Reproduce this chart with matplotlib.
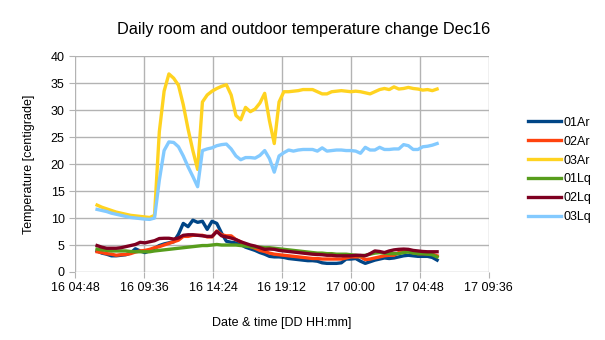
import matplotlib
matplotlib.use("Agg")
import matplotlib.pyplot as plt
import matplotlib.dates as mdates
import pandas as pd

plt.rcParams['font.family'] = ['Liberation Sans', 'DejaVu Sans']

# readings every 20 minutes, 16 Dec 06:20 -> 17 Dec 06:00
times = pd.date_range("2016-12-16 06:20", periods=72, freq="20min")

t_01ar = [3.9, 3.5, 3.3, 3.0, 3.0, 3.1, 3.2, 3.5, 4.3, 3.9, 3.6, 3.9, 4.4, 4.9, 5.2, 5.4,
          5.6, 7.0, 9.0, 8.4, 9.6, 9.2, 9.4, 7.9, 9.4, 9.0, 7.2, 5.7, 5.5, 5.4, 5.1, 4.6,
          4.3, 4.0, 3.6, 3.3, 2.9, 2.8, 2.8, 2.7, 2.5, 2.4, 2.3, 2.2, 2.1, 2.1, 2.0, 1.7,
          1.6, 1.6, 1.6, 1.7, 2.4, 2.4, 2.5, 2.0, 1.6, 1.9, 2.2, 2.4, 2.6, 2.5, 2.6, 2.8,
          3.0, 3.1, 3.0, 2.9, 2.9, 2.9, 2.7, 2.2]
t_02ar = [3.75, 3.6, 3.4, 3.3, 3.1, 3.2, 3.25, 3.4, 3.7, 3.9, 4.0, 4.2, 4.5, 4.7, 5.0, 5.3,
          5.6, 5.9, 6.6, 6.6, 6.8, 6.8, 6.8, 6.5, 6.5, 7.6, 6.9, 6.7, 6.7, 6.0, 5.6, 5.1,
          4.7, 4.4, 4.0, 3.8, 3.5, 3.3, 3.2, 3.1, 3.0, 2.9, 2.8, 2.7, 2.6, 2.5, 2.5, 2.4,
          2.4, 2.4, 2.4, 2.4, 2.6, 2.8, 2.8, 2.8, 2.3, 2.4, 2.6, 2.8, 3.0, 3.1, 3.1, 3.6,
          3.9, 3.8, 3.6, 3.4, 3.4, 3.4, 3.3, 3.0]
t_03ar = [12.4, 12.0, 11.7, 11.4, 11.1, 10.9, 10.7, 10.5, 10.4, 10.3, 10.2, 10.1, 10.5, 26.0, 33.5, 36.7,
          35.9, 34.6, 31.0, 26.5, 22.5, 19.0, 31.5, 32.8, 33.5, 34.0, 34.4, 34.7, 32.8, 29.0, 28.2, 30.5,
          29.7, 30.2, 31.3, 33.1, 28.0, 23.8, 31.5, 33.4, 33.4, 33.5, 33.6, 33.8, 33.8, 33.8, 33.4, 33.0,
          33.0, 33.4, 33.5, 33.6, 33.5, 33.4, 33.5, 33.4, 33.2, 33.0, 33.4, 33.8, 34.0, 33.8, 34.3, 33.9,
          34.0, 34.2, 34.0, 33.9, 33.7, 33.8, 33.6, 33.9]
t_01lq = [4.25, 4.1, 4.0, 3.9, 3.9, 3.9, 3.9, 3.8, 3.75, 3.75, 3.75, 3.75, 3.9, 4.0, 4.1, 4.2,
          4.3, 4.4, 4.5, 4.6, 4.7, 4.8, 4.9, 4.9, 5.0, 5.1, 5.0, 5.0, 5.0, 5.0, 4.9, 4.8,
          4.7, 4.6, 4.6, 4.5, 4.5, 4.4, 4.3, 4.2, 4.1, 4.0, 3.9, 3.8, 3.7, 3.6, 3.5, 3.5,
          3.4, 3.4, 3.3, 3.3, 3.3, 3.2, 3.1, 3.0, 3.1, 3.3, 3.5, 3.6, 3.5, 3.4, 3.4, 3.4,
          3.6, 3.7, 3.5, 3.4, 3.4, 3.3, 3.2, 2.8]
t_02lq = [4.9, 4.6, 4.4, 4.4, 4.4, 4.5, 4.7, 4.9, 5.1, 5.5, 5.4, 5.6, 5.8, 6.2, 6.25, 6.25,
          6.1, 6.3, 6.8, 6.9, 6.9, 6.8, 6.7, 6.6, 6.6, 7.5, 6.7, 6.5, 6.3, 6.0, 5.6, 5.3,
          5.0, 4.8, 4.5, 4.2, 4.25, 4.2, 4.0, 3.9, 3.8, 3.7, 3.6, 3.5, 3.4, 3.3, 3.25, 3.2,
          3.1, 3.1, 3.0, 3.0, 3.0, 3.0, 3.1, 3.1, 3.0, 3.4, 3.9, 3.8, 3.6, 3.9, 4.1, 4.2,
          4.25, 4.2, 4.0, 3.9, 3.8, 3.75, 3.75, 3.75]
t_03lq = [11.6, 11.4, 11.2, 10.9, 10.7, 10.5, 10.3, 10.1, 10.0, 9.9, 9.8, 9.75, 10.0, 17.0, 22.5, 24.1,
          24.0, 23.2, 21.5, 19.5, 17.7, 15.8, 22.5, 22.8, 23.0, 23.4, 23.6, 23.7, 22.8, 21.5, 20.8, 21.2,
          21.2, 21.1, 21.6, 22.5, 21.0, 18.5, 21.5, 22.1, 22.6, 22.4, 22.6, 22.7, 22.7, 22.7, 22.4, 23.0,
          22.4, 22.5, 22.6, 22.6, 22.5, 22.5, 22.4, 22.0, 23.1, 22.6, 22.6, 23.1, 22.7, 22.7, 22.8, 22.8,
          23.6, 23.4, 22.7, 22.7, 23.2, 23.3, 23.5, 23.8]

series = [("01Ar", t_01ar, "#004586"),
          ("02Ar", t_02ar, "#ff420e"),
          ("03Ar", t_03ar, "#ffd320"),
          ("01Lq", t_01lq, "#579d1c"),
          ("02Lq", t_02lq, "#7e0021"),
          ("03Lq", t_03lq, "#83caff")]

fig = plt.figure(figsize=(6.05, 3.4), dpi=100)
ax = fig.add_axes([0.124, 0.2, 0.684, 0.635])

for name, vals, col in series:
    ax.plot(times, vals, color=col, lw=2.4, label=name, solid_joinstyle="round")

# x ticks every 4h48m starting 16 04:48
xt = pd.date_range("2016-12-16 04:48", periods=7, freq="288min")
ax.set_xticks(xt)
ax.xaxis.set_major_formatter(mdates.DateFormatter("%d %H:%M"))
ax.set_xlim(xt[0], xt[-1])
ax.set_ylim(0, 40)
ax.set_yticks(range(0, 41, 5))

ax.grid(True, color="#b3b3b3", lw=1)
ax.set_axisbelow(True)
for s in ax.spines.values():
    s.set_visible(False)
ax.tick_params(colors="#b3b3b3", labelcolor="black", labelsize=9, length=4)

fig.text(0.502, 0.912, "Daily room and outdoor temperature change Dec16",
         fontsize=11.8, ha="center", va="center")
ax.set_xlabel("Date & time [DD HH:mm]", fontsize=9, labelpad=16)
ax.set_ylabel("Temperature [centigrade]", fontsize=9, labelpad=11)

fig.legend(loc="center left", bbox_to_anchor=(0.865, 0.5), frameon=False, fontsize=9,
           handlelength=2.6, handletextpad=0.2, labelspacing=0.55, borderaxespad=0)

fig.savefig("out.png", dpi=100)
